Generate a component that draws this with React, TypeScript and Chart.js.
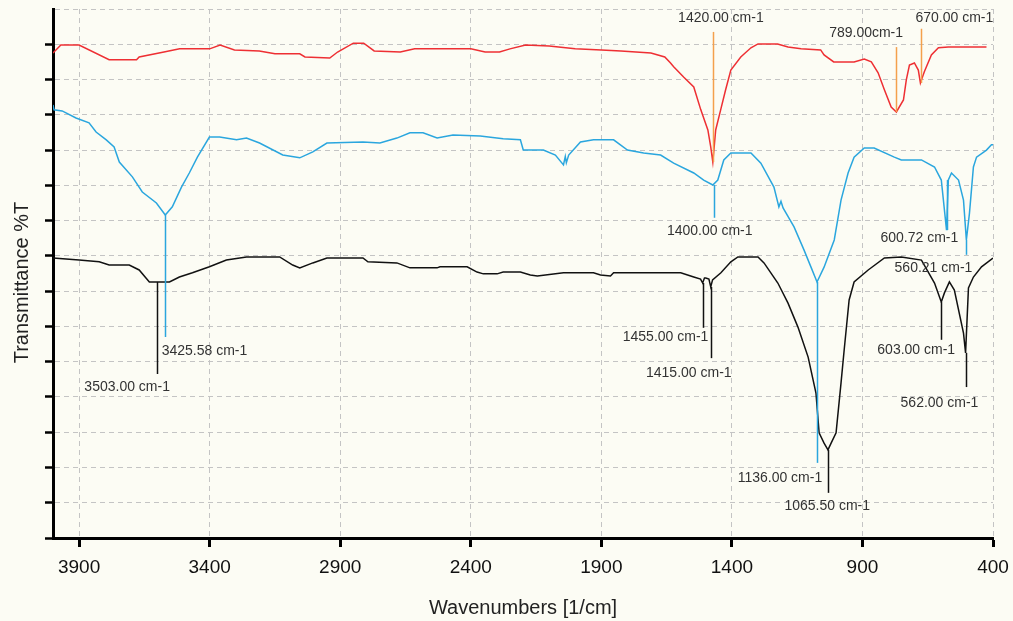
import React, { useEffect, useRef } from "react";
import { Chart, registerables } from "chart.js";

Chart.register(...registerables);

const FONT = '"Liberation Sans", Arial, sans-serif';

const xTicks = [3900, 3400, 2900, 2400, 1900, 1400, 900, 400];
const yTitle = "Transmittance %T";
const xTitle = "Wavenumbers [1/cm]";

// [wavenumber, %T (stacked, arbitrary offset)]
const redPoints: [number, number][] = [
  [4000, 137.5], [3970, 139.8], [3900, 139.8], [3785, 135.6], [3680, 135.6], [3670, 136.4],
  [3575, 137.8], [3515, 138.7], [3400, 138.7], [3360, 139.8], [3305, 138.4], [3210, 138.1],
  [3150, 137.3], [3055, 137.3], [3035, 136.4], [2940, 136.1], [2910, 137.8], [2850, 140.3],
  [2810, 140.3], [2770, 138.1], [2670, 137.8], [2615, 138.7], [2400, 138.7], [2345, 137.8],
  [2290, 137.8], [2250, 138.7], [2190, 139.8], [2100, 139.5], [2000, 138.7], [1900, 138.4],
  [1825, 138.1], [1710, 137.5], [1657, 136.4], [1635, 134.7], [1623, 133.6], [1585, 130.7],
  [1546, 127.9], [1519, 121.4], [1492, 115.7], [1481, 110.9], [1473, 106.6], [1462, 115.7],
  [1443, 121.4], [1424, 127.1], [1404, 132.7], [1366, 136.4], [1327, 139.0], [1300, 140.1],
  [1225, 140.1], [1185, 139.2], [1135, 138.7], [1060, 138.4], [1047, 137.0], [1010, 135.0],
  [932, 135.0], [893, 135.8], [866, 135.0], [840, 131.9], [816, 127.1], [790, 122.2],
  [770, 120.8], [743, 124.2], [732, 129.9], [720, 134.1], [701, 134.7], [686, 132.7],
  [678, 129.0], [663, 132.2], [636, 137.0], [609, 139.0], [571, 139.2], [425, 139.2],
];

const bluePoints: [number, number][] = [
  [4000, 122.8], [3996, 121.4], [3965, 121.1], [3912, 119.1], [3862, 117.7], [3835, 115.1],
  [3796, 112.9], [3766, 110.9], [3746, 106.6], [3696, 102.4], [3658, 98.1], [3604, 95.0],
  [3570, 91.6], [3543, 93.9], [3508, 99.5], [3478, 103.5], [3447, 108.0], [3401, 113.7],
  [3362, 113.7], [3297, 112.9], [3259, 113.4], [3209, 112.0], [3120, 108.6], [3055, 107.8],
  [3005, 109.5], [2951, 112.0], [2813, 112.3], [2748, 112.0], [2683, 113.4], [2633, 114.9],
  [2583, 114.9], [2529, 113.4], [2468, 114.3], [2364, 114.0], [2276, 113.2], [2210, 112.9],
  [2199, 110.0], [2122, 110.0], [2076, 108.6], [2045, 105.8], [2038, 108.2], [2034, 106.4],
  [2025, 108.6], [1980, 112.3], [1930, 112.9], [1853, 112.9], [1800, 110.0], [1738, 109.2],
  [1673, 108.6], [1623, 106.3], [1546, 103.5], [1508, 101.5], [1473, 100.1], [1454, 101.5],
  [1431, 107.2], [1404, 109.2], [1327, 109.2], [1289, 106.3], [1239, 99.5], [1220, 93.9],
  [1212, 95.5], [1204, 93.6], [1162, 88.2], [1124, 81.7], [1097, 76.8], [1074, 72.6],
  [1047, 76.8], [1008, 84.5], [982, 95.8], [955, 103.5], [932, 108.0], [893, 110.6],
  [855, 110.6], [778, 108.0], [751, 107.2], [674, 107.2], [624, 105.2], [598, 101.5],
  [578, 87.3], [571, 101.5], [559, 103.5], [532, 101.5], [513, 95.8], [502, 84.5],
  [490, 92.2], [475, 105.2], [463, 108.0], [425, 110.0], [406, 111.5], [400, 111.5],
];

const blackPoints: [number, number][] = [
  [4000, 79.4], [3900, 78.8], [3823, 78.3], [3785, 77.4], [3708, 77.4], [3670, 76.0],
  [3631, 72.6], [3554, 72.6], [3516, 74.0], [3466, 75.2], [3401, 76.9], [3336, 78.8],
  [3259, 79.7], [3132, 79.7], [3082, 77.4], [3055, 76.6], [3005, 78.0], [2951, 79.4],
  [2813, 79.4], [2794, 78.3], [2683, 78.0], [2633, 76.6], [2529, 76.6], [2518, 76.9],
  [2414, 76.9], [2376, 75.4], [2352, 74.9], [2299, 74.9], [2276, 75.4], [2210, 75.4],
  [2172, 74.6], [2145, 74.3], [2045, 75.2], [1930, 75.2], [1903, 74.6], [1865, 74.3],
  [1853, 75.2], [1596, 75.2], [1546, 74.0], [1520, 73.4], [1512, 72.3], [1505, 73.7],
  [1500, 73.7], [1488, 73.4], [1481, 71.2], [1474, 73.2], [1442, 75.2], [1404, 78.3],
  [1377, 79.7], [1300, 79.7], [1277, 78.0], [1224, 72.3], [1185, 66.6], [1147, 59.8],
  [1108, 51.3], [1078, 41.1], [1066, 29.8], [1047, 26.9], [1032, 25.0], [1020, 26.9],
  [1001, 29.8], [982, 44.0], [970, 53.3], [951, 67.5], [932, 72.6], [878, 76.0],
  [816, 79.4], [751, 79.7], [674, 78.8], [624, 72.3], [598, 66.9], [586, 69.5],
  [567, 72.6], [548, 70.3], [513, 58.1], [505, 52.5], [494, 70.9], [475, 74.0],
  [444, 76.9], [400, 79.4],
];

const seriesColors = ["#ee2f33", "#2aa6de", "#111111"];
const annLineColors = ["#f4a04c", "#2aa6de", "#111111"];

// peak annotations
const annText = [
  "1420.00 cm-1", "789.00cm-1", "670.00 cm-1",
  "1400.00 cm-1", "3425.58 cm-1", "1136.00 cm-1", "600.72 cm-1", "560.21 cm-1",
  "3503.00 cm-1", "1455.00 cm-1", "1415.00 cm-1", "1065.50 cm-1", "603.00 cm-1", "562.00 cm-1",
];
const annSeries = [0, 0, 0, 1, 1, 1, 1, 1, 2, 2, 2, 2, 2, 2];
const annWn = [1473, 770, 674, 1469, 3570, 1074, 578, 502, 3600, 1512, 1481, 1032, 598, 505];
const annFrom = [106.6, 120.8, 129.0, 100.1, 91.6, 72.6, 101.5, 84.5, 72.6, 72.3, 71.2, 25.0, 66.9, 52.5];
const annTo = [143.5, 139.2, 144.4, 90.8, 57.0, 21.3, 87.3, 80.3, 46.5, 59.6, 51.0, 12.8, 56.2, 42.8];
const annLabelWn = [1442, 886, 548, 1485, 3420, 1216, 682, 628, 3716, 1654, 1565, 1035, 694, 605];
const annLabelT = [147.5, 143.2, 147.5, 87.1, 53.0, 17.0, 85.1, 76.6, 42.8, 57.0, 46.8, 9.1, 53.3, 38.3];

export default function App() {
  const ref = useRef<HTMLCanvasElement>(null);

  useEffect(() => {
    const canvas = ref.current;
    if (!canvas) return;
    const toXY = (pts: [number, number][]) => pts.map(([x, y]) => ({ x, y }));

    const peakPlugin = {
      id: "peaks",
      afterDatasetsDraw(chart: any) {
        const { ctx, chartArea, scales } = chart;
        const xs = scales.x;
        const ys = scales.y;
        ctx.save();
        ctx.beginPath();
        ctx.rect(chartArea.left, chartArea.top, chartArea.right - chartArea.left, chartArea.bottom - chartArea.top);
        ctx.clip();
        annWn.forEach((wn, i) => {
          const px = Math.round(xs.getPixelForValue(wn)) + 0.5;
          ctx.strokeStyle = annLineColors[annSeries[i]];
          ctx.lineWidth = 1.5;
          ctx.beginPath();
          ctx.moveTo(px, ys.getPixelForValue(annFrom[i]));
          ctx.lineTo(px, ys.getPixelForValue(annTo[i]));
          ctx.stroke();
        });
        ctx.fillStyle = "#333333";
        ctx.font = `14px ${FONT}`;
        ctx.textAlign = "center";
        ctx.textBaseline = "middle";
        annText.forEach((t, i) => {
          ctx.fillText(t, xs.getPixelForValue(annLabelWn[i]), ys.getPixelForValue(annLabelT[i]));
        });
        ctx.restore();
      },
      afterDraw(chart: any) {
        const { ctx, chartArea } = chart;
        ctx.save();
        ctx.fillStyle = "#222222";
        ctx.font = `20px ${FONT}`;
        ctx.textAlign = "center";
        ctx.textBaseline = "middle";
        ctx.translate(22, (chartArea.top + chartArea.bottom) / 2 + 9);
        ctx.rotate(-Math.PI / 2);
        ctx.fillText(yTitle, 0, 0);
        ctx.restore();
      },
    };

    const chart = new Chart(canvas, {
      type: "line",
      data: {
        datasets: [
          { data: toXY(redPoints), borderColor: seriesColors[0] },
          { data: toXY(bluePoints), borderColor: seriesColors[1] },
          { data: toXY(blackPoints), borderColor: seriesColors[2] },
        ],
      },
      options: {
        responsive: false,
        animation: false,
        layout: { padding: { top: 9, right: 20, left: 0, bottom: 0 } },
        elements: {
          point: { radius: 0 },
          line: { borderWidth: 1.5, tension: 0, fill: false },
        },
        plugins: {
          legend: { display: false },
          tooltip: { enabled: false },
        },
        scales: {
          x: {
            type: "linear",
            reverse: true,
            min: 400,
            max: 4000,
            afterBuildTicks: (scale: any) => {
              scale.ticks = xTicks.map((v) => ({ value: v }));
            },
            afterFit: (scale: any) => {
              scale.height = 83;
            },
            ticks: {
              font: { family: FONT, size: 19, lineHeight: 1.85 },
              color: "#111111",
              padding: 3,
              maxRotation: 0,
              autoSkip: false,
              callback: (v: any) => String(v),
            },
            grid: {
              color: "#c4c4c4",
              lineWidth: 1,
              tickLength: 9,
              tickColor: "#000000",
              tickWidth: 3,
            },
            border: { display: true, color: "#000000", width: 3, dash: [5, 4] },
            title: {
              display: true,
              text: xTitle,
              font: { family: FONT, size: 20 },
              color: "#222222",
              padding: { top: 0, bottom: 1 },
            },
          },
          y: {
            type: "linear",
            min: 0,
            max: 150,
            afterFit: (scale: any) => {
              scale.width = 53;
            },
            ticks: { stepSize: 10, display: false },
            grid: {
              color: "#c4c4c4",
              lineWidth: 1,
              tickLength: 8,
              tickColor: (c: any) =>
                c.tick && c.tick.value === 150 ? "rgba(0,0,0,0)" : "#000000",
              tickWidth: 2.5,
            },
            border: { display: true, color: "#000000", width: 3, dash: [5, 4] },
            title: { display: false },
          },
        },
      },
      plugins: [peakPlugin],
    } as any);

    return () => chart.destroy();
  }, []);

  return (
    <div
      style={{
        position: "fixed",
        left: 0,
        top: 0,
        width: 1013,
        height: 621,
        background: "#fcfcf4",
      }}
    >
      <canvas ref={ref} width={1013} height={621} style={{ display: "block" }} />
    </div>
  );
}
